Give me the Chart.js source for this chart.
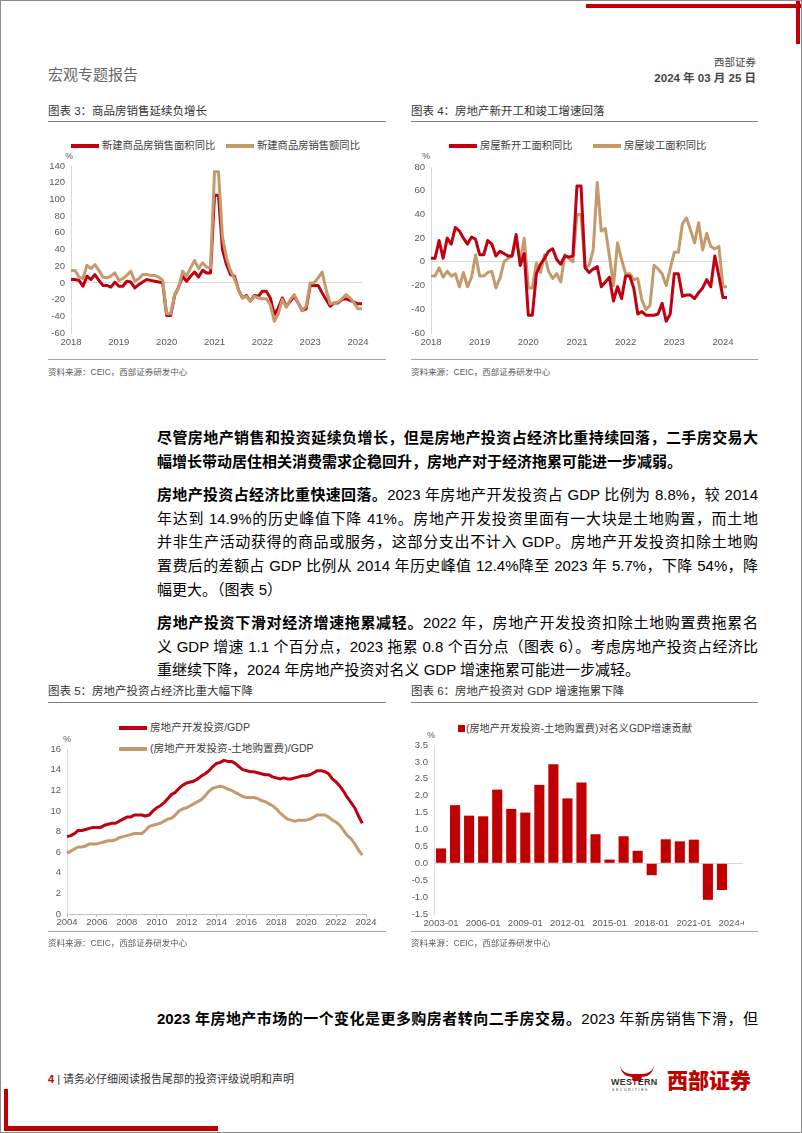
<!DOCTYPE html>
<html>
<head>
<meta charset="utf-8">
<script src="https://cdn.jsdelivr.net/npm/chart.js@4.4.1/dist/chart.umd.min.js"></script>
<style>
    body { margin: 0; background: #fff; }
    #page {
        position: relative; width: 802px; height: 1133px; box-sizing: border-box;
        border: 1px solid #8c8c8c; overflow: hidden;
        font-family: "Liberation Sans", "Noto Sans CJK SC", sans-serif; color: #000;
    }
    .abs { position: absolute; white-space: nowrap; }
    .red { background: #c00000; position: absolute; }
    .title { font-size: 11.5px; color: #333; line-height: 14px; }
    .rule { position: absolute; height: 1px; background: #808080; }
    .rule2 { position: absolute; height: 1px; background: #a6a6a6; }
    .src { font-size: 8.5px; color: #595959; line-height: 10px; }
    .legend { font-size: 10.3px; color: #404040; line-height: 13px; }
    .swatch { position: absolute; height: 3.5px; }
    .unit { font-size: 9px; color: #595959; line-height: 10px; }
    .para { position: absolute; left: 156px; width: 601px; font-size: 15px; line-height: 23.7px; }
    .para div { text-align: justify; text-align-last: justify; white-space: nowrap; }
    .para div.last { text-align-last: left; }
    b { font-weight: 700; }
    canvas { position: absolute; }
</style>
</head>
<body>
<div id="page">
    <!-- corner marks -->
    <div class="red" style="left:585px; top:3px; width:215px; height:4px;"></div>
    <div class="red" style="left:795px; top:0; width:4px; height:43px;"></div>
    <div class="red" style="left:3px; top:1088px; width:4px; height:42px;"></div>
    <div class="red" style="left:3px; top:1125px; width:214px; height:5px;"></div>

    <!-- header -->
    <div class="abs" style="left:47px; top:64px; font-size:15px; color:#666; line-height:20px;">宏观专题报告</div>
    <div class="abs" style="right:45px; top:55px; font-size:10.5px; color:#444; line-height:13px;">西部证券</div>
    <div class="abs" style="right:45px; top:70px; font-size:11.5px; color:#444; font-weight:700; line-height:14px;">2024 年 03 月 25 日</div>

    <!-- chart 3 / 4 titles -->
    <div class="abs title" style="left:47px; top:103px;">图表 3：商品房销售延续负增长</div>
    <div class="rule" style="left:47px; top:120px; width:338px;"></div>
    <div class="abs title" style="left:410px; top:103px;">图表 4：房地产新开工和竣工增速回落</div>
    <div class="rule" style="left:410px; top:120px; width:347px;"></div>

    <!-- chart 3 legend -->
    <div class="swatch" style="left:70px; top:143px; width:28px; background:#c00010;"></div>
    <div class="abs legend" style="left:101px; top:138px;">新建商品房销售面积同比</div>
    <div class="swatch" style="left:225px; top:143px; width:28px; background:#c49a6c;"></div>
    <div class="abs legend" style="left:256px; top:138px;">新建商品房销售额同比</div>
    <div class="abs unit" style="left:64px; top:150px;">%</div>
    <canvas id="chart3" width="338" height="230" style="left:47px; top:125px;"></canvas>

    <!-- chart 4 legend -->
    <div class="swatch" style="left:448px; top:143px; width:28px; background:#c00010;"></div>
    <div class="abs legend" style="left:479px; top:138px;">房屋新开工面积同比</div>
    <div class="swatch" style="left:592px; top:143px; width:28px; background:#c49a6c;"></div>
    <div class="abs legend" style="left:623px; top:138px;">房屋竣工面积同比</div>
    <div class="abs unit" style="left:421px; top:150px;">%</div>
    <canvas id="chart4" width="347" height="230" style="left:410px; top:125px;"></canvas>

    <div class="rule2" style="left:47px; top:358px; width:338px;"></div>
    <div class="rule2" style="left:410px; top:358px; width:347px;"></div>
    <div class="abs src" style="left:47px; top:366px;">资料来源：CEIC，西部证券研发中心</div>
    <div class="abs src" style="left:410px; top:366px;">资料来源：CEIC，西部证券研发中心</div>

    <!-- body text -->
    <div class="para" style="top:425px;">
        <div><b>尽管房地产销售和投资延续负增长，但是房地产投资占经济比重持续回落，二手房交易大</b></div>
        <div class="last"><b>幅增长带动居住相关消费需求企稳回升，房地产对于经济拖累可能进一步减弱。</b></div>
    </div>
    <div class="para" style="top:482px;">
        <div><b>房地产投资占经济比重快速回落。</b>2023 年房地产开发投资占 GDP 比例为 8.8%，较 2014</div>
        <div>年达到 14.9%的历史峰值下降 41%。房地产开发投资里面有一大块是土地购置，而土地</div>
        <div>并非生产活动获得的商品或服务，这部分支出不计入 GDP。房地产开发投资扣除土地购</div>
        <div>置费后的差额占 GDP 比例从 2014 年历史峰值 12.4%降至 2023 年 5.7%，下降 54%，降</div>
        <div class="last">幅更大。（图表 5）</div>
    </div>
    <div class="para" style="top:610px;">
        <div><b>房地产投资下滑对经济增速拖累减轻。</b>2022 年，房地产开发投资扣除土地购置费拖累名</div>
        <div>义 GDP 增速 1.1 个百分点，2023 拖累 0.8 个百分点（图表 6）。考虑房地产投资占经济比</div>
        <div class="last">重继续下降，2024 年房地产投资对名义 GDP 增速拖累可能进一步减轻。</div>
    </div>

    <!-- chart 5 / 6 titles -->
    <div class="abs title" style="left:47px; top:683px;">图表 5：房地产投资占经济比重大幅下降</div>
    <div class="rule" style="left:47px; top:701px; width:338px;"></div>
    <div class="abs title" style="left:410px; top:683px;">图表 6：房地产投资对 GDP 增速拖累下降</div>
    <div class="rule" style="left:410px; top:701px; width:347px;"></div>

    <!-- chart 5 legend -->
    <div class="swatch" style="left:118px; top:725px; width:28px; background:#c00010;"></div>
    <div class="abs legend" style="left:149px; top:720px; font-size:10.6px;">房地产开发投资/GDP</div>
    <div class="swatch" style="left:118px; top:746px; width:28px; background:#c49a6c;"></div>
    <div class="abs legend" style="left:149px; top:741px; font-size:10.6px;">(房地产开发投资-土地购置费)/GDP</div>
    <div class="abs unit" style="left:62px; top:733px;">%</div>
    <canvas id="chart5" width="338" height="226" style="left:47px; top:705px;"></canvas>

    <!-- chart 6 legend -->
    <div class="abs" style="left:457px; top:724px; width:7px; height:7px; background:#c00000;"></div>
    <div class="abs legend" style="left:465px; top:721px; font-size:10.2px;">(房地产开发投资-土地购置费)对名义GDP增速贡献</div>
    <div class="abs unit" style="left:426px; top:729px;">%</div>
    <div class="abs" style="left:410px; top:705px; width:333px; height:226px; overflow:hidden;">
        <canvas id="chart6" width="360" height="226" style="left:0; top:0;"></canvas>
    </div>

    <div class="rule2" style="left:47px; top:930px; width:338px;"></div>
    <div class="rule2" style="left:410px; top:930px; width:347px;"></div>
    <div class="abs src" style="left:47px; top:937px;">资料来源：CEIC，西部证券研发中心</div>
    <div class="abs src" style="left:410px; top:937px;">资料来源：CEIC，西部证券研发中心</div>

    <div class="para" style="top:1006px;">
        <div><b>2023 年房地产市场的一个变化是更多购房者转向二手房交易。</b>2023 年新房销售下滑，但</div>
    </div>

    <!-- footer -->
    <div class="abs" style="left:47px; top:1071px; font-size:11px; line-height:14px; color:#333;"><b style="color:#c00000;">4</b> | 请务必仔细阅读报告尾部的投资评级说明和声明</div>
    <svg class="abs" style="left:618px; top:1064px;" width="36" height="16" viewBox="0 0 36 16">
        <path d="M1 1 Q4 9 13 9 L23 9 Q32 9 35 1 Q33 12 23 12 L22 16 L14 16 L13 12 Q3 12 1 1 Z" fill="#c00000"/>
    </svg>
    <div class="abs" style="left:610px; top:1076px; font-size:9px; font-weight:700; color:#333; line-height:10px; letter-spacing:0.2px;">WES<span style="color:#c00000;">T</span>ERN</div>
    <div class="abs" style="left:611px; top:1087px; font-size:3.5px; color:#333; line-height:4px; letter-spacing:1.6px;">SECURITIES</div>
    <div class="abs" style="left:666px; top:1067px; font-size:21px; font-weight:900; color:#c00000; line-height:26px;">西部证券</div>
</div>

<script>
// Monthly categories for charts 3 and 4 (2018-01 .. 2024-02)
const months = [];
for (let y = 2018; y <= 2024; y++) {
    for (let m = 1; m <= 12; m++) {
        if (y === 2024 && m > 2) break;
        months.push(y + '-' + String(m).padStart(2, '0'));
    }
}

// Chart 3: new commercial housing sales, YoY %
const salesArea = [
    4, 4, 3, -4, 8, 4, 10, 3, -3, -3, -5, 1,
    -4, -4, 2, 1, -6, -2, 1, 4, 3, 2, 1, 0,
    -39, -39, -15, -5, 8, 2, 8, 13, 7, 15, 12, 12,
    105, 105, 40, 22, 10, 8, -8, -18, -15, -22, -15, -16,
    -10, -10, -18, -38, -30, -18, -28, -22, -16, -24, -33, -31,
    -3, -3, -3, -12, -20, -28, -24, -24, -20, -19, -21, -23,
    -25, -25
];
const salesValue = [
    15, 15, 7, 5, 21, 17, 22, 15, 7, 6, 8, 12,
    3, 5, 9, 14, 2, 5, 10, 10, 9, 9, 7, 3,
    -37, -37, -14, -6, 14, 8, 18, 27, 17, 24, 19, 18,
    133, 133, 55, 30, 15, 5, -8, -18, -16, -22, -16, -18,
    -19, -19, -26, -46, -37, -20, -29, -20, -14, -24, -33, -28,
    0, 0, 6, 13, -8, -25, -24, -23, -19, -14, -18, -24,
    -31, -31
];

// Chart 4: new starts and completions, YoY %
const newStarts = [
    3, 3, 18, 3, 20, 15, 29, 26, 20, 15, 21, 19,
    6, 6, 18, 15, 5, 9, 7, 5, 5, 23, -3, 7,
    -45, -45, -10, -2, 3, 9, 11, 2, -2, 5, 4, 5,
    64, 64, -5, -9, -6, -4, -21, -17, -13, -33, -21, -31,
    -12, -12, -22, -44, -42, -45, -45, -45, -44, -35, -50, -44,
    -10, -10, -29, -28, -28, -31, -26, -22, -15, -21, 5, -12,
    -30, -30
];
const completions = [
    -12, -12, -5, -13, -8, -12, -10, -21, -9, -21, -13, 6,
    -12, -12, -9, -8, -22, -14, 0, 3, 5, 19, 0, 20,
    -22, -22, -1, -9, 6, -8, -14, -10, -17, 6, 3, 0,
    40, 40, -5, -3, 10, 67, 26, 28, 5, -20, 16, 2,
    -10, -10, -15, -14, -32, -40, -37, -3, -6, -10, -20, -6,
    8, 8, 32, 37, 27, 16, 33, 10, 24, 13, 11, 13,
    -21, -21
];

// Chart 5: quarterly categories 2004Q1 .. 2024Q1 (data ends 2023Q4)
const quarters = [];
for (let y = 2004; y <= 2024; y++) {
    for (let q = 1; q <= 4; q++) {
        if (y === 2024 && q > 1) break;
        quarters.push(y + 'Q' + q);
    }
}
const investGdp = [
    7.5, 7.6, 7.8, 8.1, 8.1, 8.2, 8.3, 8.4, 8.4, 8.4, 8.6, 8.7,
    8.8, 8.8, 9.0, 9.2, 9.4, 9.4, 9.6, 9.6, 9.6, 9.5, 9.6, 10.0,
    10.3, 10.5, 10.8, 11.2, 11.6, 11.8, 12.2, 12.5, 12.7, 12.8, 12.9, 13.1,
    13.4, 13.6, 13.9, 14.3, 14.6, 14.7, 14.9, 14.8, 14.8, 14.6, 14.3, 14.0,
    13.9, 13.8, 13.8, 13.7, 13.6, 13.5, 13.5, 13.3, 13.2, 13.1, 13.2, 13.1,
    13.1, 13.2, 13.3, 13.4, 13.4, 13.5, 13.7, 13.9, 13.9, 13.8, 13.6, 13.1,
    12.8, 12.4, 11.9, 11.3, 10.8, 10.3, 9.5, 8.8
];
const investExLandGdp = [
    5.9, 6.1, 6.3, 6.5, 6.5, 6.6, 6.8, 6.8, 6.8, 6.9, 7.0, 7.1,
    7.1, 7.2, 7.4, 7.5, 7.6, 7.7, 7.8, 7.8, 7.8, 8.1, 8.5, 8.6,
    8.7, 8.8, 9.0, 9.2, 9.3, 9.6, 10.0, 10.2, 10.3, 10.5, 10.7, 10.9,
    11.1, 11.5, 11.9, 12.2, 12.3, 12.4, 12.3, 12.1, 12.0, 11.8, 11.6, 11.4,
    11.3, 11.3, 11.3, 11.2, 11.0, 10.9, 10.7, 10.5, 10.2, 9.8, 9.5, 9.2,
    9.1, 9.0, 9.1, 9.1, 9.1, 9.2, 9.4, 9.6, 9.6, 9.6, 9.4, 9.1,
    8.9, 8.6, 8.1, 7.6, 7.3, 6.8, 6.2, 5.7
];

// Chart 6: contribution to nominal GDP growth, percentage points
const years = ['2003-01', '2004-01', '2005-01', '2006-01', '2007-01', '2008-01', '2009-01', '2010-01',
    '2011-01', '2012-01', '2013-01', '2014-01', '2015-01', '2016-01', '2017-01', '2018-01',
    '2019-01', '2020-01', '2021-01', '2022-01', '2023-01', '2024-01'];
const contribution = [0.44, 1.72, 1.41, 1.39, 2.18, 1.61, 1.50, 2.32, 2.93, 1.92, 2.39, 0.86,
    0.11, 0.80, 0.37, -0.35, 0.71, 0.65, 0.70, -1.08, -0.79, null];

const RED = '#c00010';
const TAN = '#c49a6c';
const tickFont = { family: 'Liberation Sans', size: 9.5 };
const tickColor = '#595959';
const axisGray = '#d9d9d9';

Chart.defaults.animation = false;

// Function to build a y axis with a fixed width and a zero line
function yAxis(min, max, step, width, fmt) {
    return {
        min: min, max: max,
        border: { display: true, color: axisGray },
        grid: {
            drawTicks: false,
            color: ctx => (ctx.tick && ctx.tick.value === 0) ? axisGray : 'rgba(0,0,0,0)'
        },
        ticks: {
            stepSize: step, padding: 6, font: tickFont, color: tickColor,
            callback: v => fmt ? v.toFixed(fmt) : v
        },
        afterFit: s => { s.width = width; }
    };
}

// Function to build a category x axis that only labels some ticks
function xAxis(show) {
    return {
        offset: false,
        border: { display: false },
        grid: { display: false, drawTicks: false },
        ticks: {
            autoSkip: false, maxRotation: 0, padding: 4, font: tickFont, color: tickColor,
            callback: function(v, i) { return show(this.getLabelForValue(v), i); }
        },
        afterFit: s => { s.height = 16; }
    };
}

function lineSet(data, color, order) {
    return {
        data: data, borderColor: color, backgroundColor: color, borderWidth: 3,
        pointRadius: 0, tension: 0, order: order, borderJoinStyle: 'round'
    };
}

const noPlugins = { legend: { display: false }, tooltip: { enabled: false } };
const yearOnly = l => l.endsWith('-01') ? l.slice(0, 4) : null;

// Chart 3
new Chart(document.getElementById('chart3'), {
    type: 'line',
    data: { labels: months, datasets: [lineSet(salesArea, RED, 1), lineSet(salesValue, TAN, 0)] },
    options: {
        responsive: false,
        layout: { padding: { left: 0, top: 40, right: 24, bottom: 7 } },
        plugins: noPlugins,
        scales: { x: xAxis(yearOnly), y: yAxis(-60, 140, 20, 23) }
    }
});

// Chart 4
new Chart(document.getElementById('chart4'), {
    type: 'line',
    data: { labels: months, datasets: [lineSet(newStarts, RED, 0), lineSet(completions, TAN, 1)] },
    options: {
        responsive: false,
        layout: { padding: { left: 0, top: 41, right: 31, bottom: 7 } },
        plugins: noPlugins,
        scales: { x: xAxis(yearOnly), y: yAxis(-60, 80, 20, 20) }
    }
});

// Chart 5
const x5 = xAxis(l => (l.endsWith('Q1') && Number(l.slice(0, 4)) % 2 === 0) ? l.slice(0, 4) : null);
x5.border = { display: true, color: '#bfbfbf' };
x5.grid = { display: true, drawOnChartArea: false, drawTicks: true, tickLength: 3, color: '#bfbfbf' };
x5.ticks.padding = 0;
const y5 = yAxis(0, 16, 2, 19);
y5.grid = { display: false, drawTicks: false };
new Chart(document.getElementById('chart5'), {
    type: 'line',
    data: { labels: quarters, datasets: [lineSet(investGdp, RED, 0), lineSet(investExLandGdp, TAN, 1)] },
    options: {
        responsive: false,
        layout: { padding: { left: 0, top: 43, right: 20, bottom: 2 } },
        plugins: noPlugins,
        scales: { x: x5, y: y5 }
    }
});

// Chart 6
const x6 = xAxis((l, i) => i % 3 === 0 ? l : null);
x6.offset = true;
new Chart(document.getElementById('chart6'), {
    type: 'bar',
    data: {
        labels: years,
        datasets: [{ data: contribution, backgroundColor: '#c00000', categoryPercentage: 1, barPercentage: 0.72 }]
    },
    options: {
        responsive: false,
        layout: { padding: { left: 0, top: 39, right: 28, bottom: 2 } },
        plugins: noPlugins,
        scales: { x: x6, y: yAxis(-1.5, 3.5, 0.5, 23, 1) }
    }
});
</script>
</body>
</html>
